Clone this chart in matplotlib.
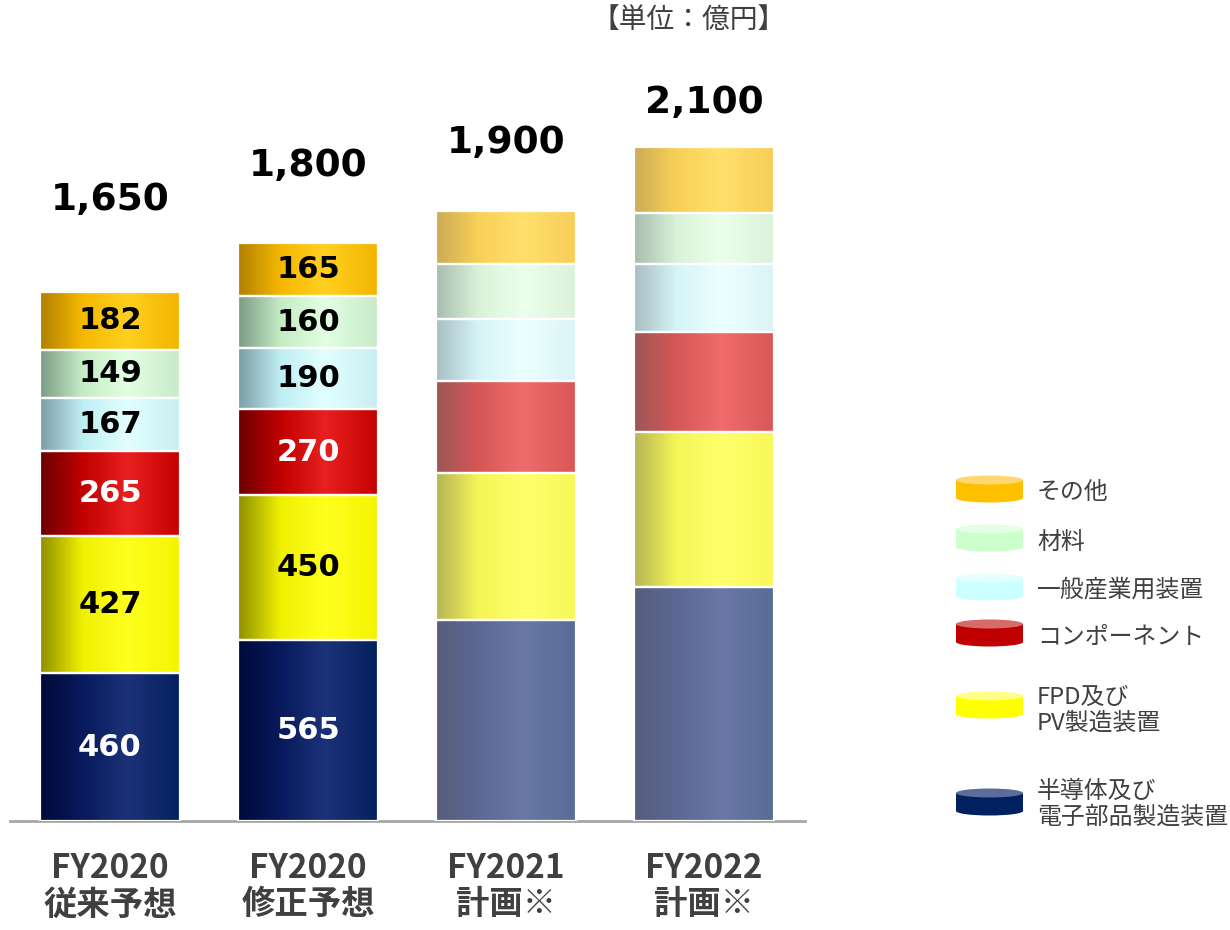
import numpy as np
import matplotlib.pyplot as plt
from matplotlib.colors import LinearSegmentedColormap, to_rgb
from matplotlib.patches import Ellipse, Rectangle

plt.rcParams['font.family'] = ['Noto Sans CJK JP', 'DejaVu Sans']

# 売上高の内訳（億円）
categories = ['FY2020\n従来予想', 'FY2020\n修正予想', 'FY2021\n計画※', 'FY2022\n計画※']
segments = ['半導体及び\n電子部品製造装置', 'FPD及び\nPV製造装置', 'コンポーネント',
            '一般産業用装置', '材料', 'その他']
semicon = [460, 565, 627, 729]
fpd_pv = [427, 450, 459, 484]
component = [265, 270, 284, 312]
industrial = [167, 190, 196, 210]
materials = [149, 160, 171, 159]
others = [182, 165, 163, 206]
totals = [1650, 1800, 1900, 2100]
labelled = [True, True, False, False]

series = [semicon, fpd_pv, component, industrial, materials, others]

# cylinder shading: (edge dark, base, highlight, right side)
shades = [
    ('#000a38', '#08195c', '#1c3278', '#04205e'),
    ('#8e8e00', '#f0f000', '#ffff20', '#f4f400'),
    ('#6a0000', '#c00000', '#e82020', '#c40000'),
    ('#7c9ca4', '#bfeef2', '#e2ffff', '#c8eef2'),
    ('#7c9a86', '#c4ecc4', '#e2ffe2', '#c8eac8'),
    ('#b08000', '#f5b800', '#ffd020', '#f2b400'),
]
legend_body = ['#002060', '#ffff00', '#c00000', '#ccffff', '#ccffcc', '#ffc000']
legend_top = ['#5b6d9a', '#ffff88', '#d86a6a', '#e4ffff', '#e4ffe4', '#ffd870']
text_colors = ['white', 'black', 'white', 'black', 'black', 'black']


def faded(c, a=0.66):
    r = np.array(to_rgb(c))
    return tuple(r * a + (1 - a))


fig = plt.figure(figsize=(12.3, 9.3), dpi=100)
ax = fig.add_axes([10 / 1230, 109 / 930, 795 / 1230, 738 / 930])

x = np.arange(len(categories))
width = 0.71
grad = np.linspace(0, 1, 256).reshape(1, -1)
bottom = np.zeros(len(categories))

for k, vals in enumerate(series):
    bars = ax.bar(x, vals, width, bottom=bottom, color='none',
                  edgecolor='white', linewidth=1.6, zorder=3)
    for i, patch in enumerate(bars):
        cols = shades[k] if labelled[i] else [faded(c) for c in shades[k]]
        cmap = LinearSegmentedColormap.from_list(
            'cyl', list(zip([0, 0.3, 0.62, 1.0], cols)))
        x0, y0 = patch.get_x(), patch.get_y()
        ax.imshow(grad, cmap=cmap, aspect='auto', zorder=2,
                  extent=(x0, x0 + patch.get_width(), y0, y0 + patch.get_height()))
        if labelled[i]:
            ax.text(x[i], bottom[i] + vals[i] / 2, f'{vals[i]}', ha='center', va='center',
                    fontsize=22, fontweight='bold', family='DejaVu Sans',
                    color=text_colors[k], zorder=4)
    bottom = bottom + np.array(vals)

# 合計値
total_offsets = [66, 56, 49, 32]
for i, t in enumerate(totals):
    ax.annotate(f'{t:,}', (x[i], t), xytext=(0, total_offsets[i]), textcoords='offset points',
                ha='center', va='center', fontsize=27, fontweight='bold',
                family='DejaVu Sans', color='black')

ax.set_xlim(-0.505, 3.51)
ax.set_ylim(0, 2300)
ax.set_xticks(x)
ax.set_xticklabels(categories, fontsize=24, fontweight='bold', color='#404040', linespacing=1.15)
ax.tick_params(axis='x', length=0, pad=22)
ax.set_yticks([])
for s in ['top', 'left', 'right']:
    ax.spines[s].set_visible(False)
ax.spines['bottom'].set_color('#a6a6a6')
ax.spines['bottom'].set_linewidth(2)

# 凡例（円柱型のマーカー）
lax = fig.add_axes([0, 0, 1, 1])
lax.set_xlim(0, 1230)
lax.set_ylim(930, 0)
lax.axis('off')
disc_y = [802, 705, 633, 587, 538, 489]
text_y = [804, 710, 637, 590, 542, 492]
for k in range(len(segments)):
    cx, cy = 989.5, disc_y[k]
    yt, yb = cy - 9, cy + 9
    lax.add_patch(Ellipse((cx, yb), 67, 9, color=legend_body[k], lw=0))
    lax.add_patch(Rectangle((cx - 33.5, yt), 67, yb - yt, color=legend_body[k], lw=0))
    lax.add_patch(Ellipse((cx, yt), 67, 9, color=legend_top[k], lw=0))
    lax.text(1037, text_y[k], segments[k], ha='left', va='center', fontsize=17.2,
             color='#404040', linespacing=1.15)

lax.text(689, 20, '【単位：億円】', ha='center', va='center', fontsize=20, color='#404040')

fig.savefig('out.png', dpi=100)
